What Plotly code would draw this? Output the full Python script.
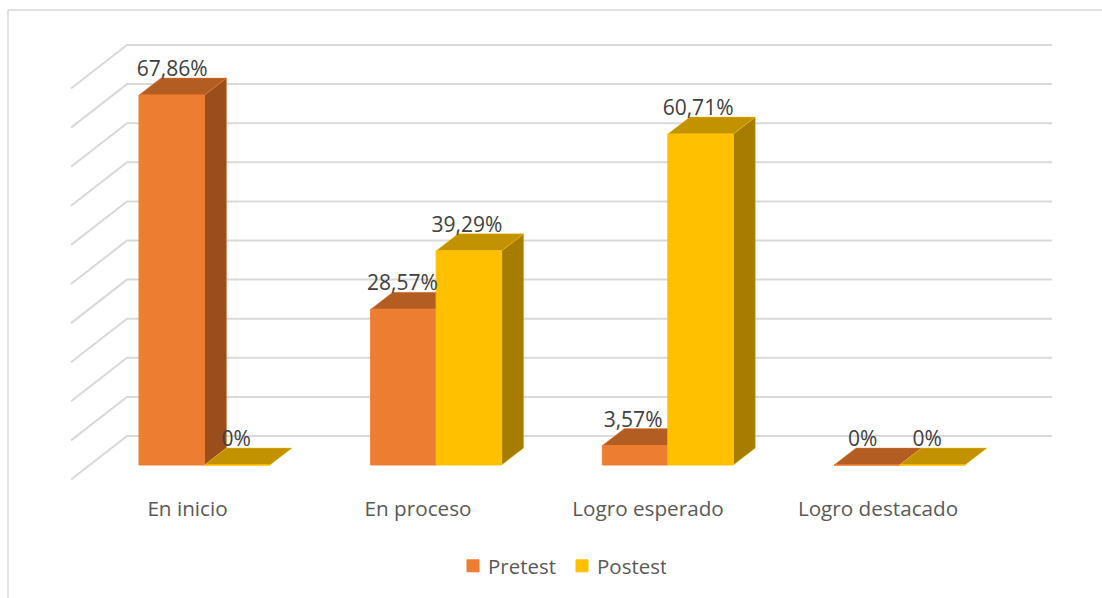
import plotly.graph_objects as go

categories = ["En inicio", "En proceso", "Logro esperado", "Logro destacado"]
pretest = [67.86, 28.57, 3.57, 0]
postest = [0, 39.29, 60.71, 0]
series_names = ["Pretest", "Postest"]

# Colours
ORANGE, ORANGE_TOP, ORANGE_SIDE = "#ED7D31", "#B35D23", "#9A4E1C"
YELLOW, YELLOW_TOP, YELLOW_SIDE = "#FFC000", "#C29200", "#A67D00"
GRID = "#D9D9D9"
FONT = "Open Sans"
WIDTH, HEIGHT = 1102, 598

# Pixel calibration of the scales
PLOT_BOTTOM = 490
X0_PX, X_STEP = 204.5, 231.67    # category 0 centre, px per category
Y0_PX, Y_STEP = 465.0, 5.452     # zero level, px per percent
x_u = lambda dx: dx / X_STEP
y_u = lambda dy: dy / Y_STEP
xrange_ = [-X0_PX / X_STEP, (WIDTH - X0_PX) / X_STEP]
yrange_ = [(Y0_PX - PLOT_BOTTOM) / Y_STEP, Y0_PX / Y_STEP]
px_x = lambda p: (p - X0_PX) / X_STEP
px_y = lambda p: (Y0_PX - p) / Y_STEP

DX, DY = x_u(22), y_u(17)        # depth of the 3D extrusion
BAR_W = 65.5 / X_STEP
LABEL_OFF = y_u(24)
TICK_PX = [187.5, 418, 648, 878]
LABEL_SHIFT_PX = [0.5, -1, -1, -2, -2, -2.5, -4, -5]

shapes = []
# Frame
shapes.append(dict(type="line", xref="paper", yref="paper", x0=8/WIDTH, x1=1, y0=(PLOT_BOTTOM-10)/PLOT_BOTTOM,
                   y1=(PLOT_BOTTOM-10)/PLOT_BOTTOM, line=dict(color=GRID, width=1.5), layer="below"))
shapes.append(dict(type="line", xref="paper", yref="paper", x0=8/WIDTH, x1=8/WIDTH, y0=(PLOT_BOTTOM-10)/PLOT_BOTTOM,
                   y1=(PLOT_BOTTOM-598)/PLOT_BOTTOM, line=dict(color=GRID, width=1.5), layer="below"))
# Back wall and floor gridlines
for k in range(11):
    yb = 45 + 39.1 * k
    path = f"M{px_x(71)},{px_y(yb + 43.5)} L{px_x(127)},{px_y(yb)} L{px_x(1052)},{px_y(yb)}"
    shapes.append(dict(type="path", xref="x", yref="y", path=path, layer="below",
                       line=dict(color=GRID, width=2)))

def faces(cx, v, top, side, edge):
    x0, x1 = cx - BAR_W / 2, cx + BAR_W / 2
    top_path = f"M{x0},{v} L{x1},{v} L{x1+DX},{v+DY} L{x0+DX},{v+DY} Z"
    side_path = f"M{x1},0 L{x1+DX},{DY} L{x1+DX},{v+DY} L{x1},{v} Z"
    for p, c in ((side_path, side), (top_path, top)):
        if p is side_path and v == 0:
            continue
        shapes.append(dict(type="path", xref="x", yref="y", path=p, fillcolor=c, layer="below",
                           line=dict(color=edge, width=0.4)))

xs = list(range(len(categories)))
for i, v in enumerate(pretest):
    faces(i - BAR_W / 2, v, ORANGE_TOP, ORANGE_SIDE, ORANGE)
for i, v in enumerate(postest):
    faces(i + BAR_W / 2, v, YELLOW_TOP, YELLOW_SIDE, YELLOW)

fig = go.Figure()
fig.add_bar(x=xs, y=pretest, name=series_names[0], marker=dict(color=ORANGE, line=dict(color=ORANGE, width=1)))
fig.add_bar(x=xs, y=postest, name=series_names[1], marker=dict(color=YELLOW, line=dict(color=YELLOW, width=1)))

def fmt(v):
    return "0%" if v == 0 else f"{v:.2f}".replace(".", ",") + "%"

lab_x, lab_y, lab_t = [], [], []
n = 0
for i in xs:
    for off, v in ((-BAR_W / 2, pretest[i]), (BAR_W / 2, postest[i])):
        lab_x.append(i + off + x_u(LABEL_SHIFT_PX[n]))
        lab_y.append(v + LABEL_OFF)
        lab_t.append(fmt(v))
        n += 1
fig.add_scatter(x=lab_x, y=lab_y, text=lab_t, mode="text", textposition="middle center",
                textfont=dict(family=FONT, size=21, color="#404040"), showlegend=False, hoverinfo="skip")

fig.update_layout(
    width=WIDTH, height=HEIGHT, autosize=False,
    margin=dict(l=0, r=0, t=0, b=HEIGHT - PLOT_BOTTOM, pad=0),
    paper_bgcolor="white", plot_bgcolor="white",
    barmode="group", bargap=1 - 2 * BAR_W, bargroupgap=0,
    shapes=shapes,
    font=dict(family=FONT, size=20.7, color="#595959"),
    legend=dict(orientation="h", x=(448 / WIDTH), xanchor="left", y=(PLOT_BOTTOM - 566) / PLOT_BOTTOM, yanchor="middle",
                traceorder="normal", entrywidth=64, entrywidthmode="pixels",
                font=dict(family=FONT, size=20.5, color="#595959"), bgcolor="rgba(0,0,0,0)"),
    xaxis=dict(range=xrange_, tickmode="array", tickvals=[px_x(p) for p in TICK_PX], ticktext=categories,
               showgrid=False, zeroline=False, showline=False, ticks="", ticklabelstandoff=4, fixedrange=True),
    yaxis=dict(range=yrange_, visible=False, fixedrange=True),
)
fig.write_html(
    "out.html",
    config={"displayModeBar": False},
    post_script=(
        "document.body.style.margin='0';document.body.style.overflow='hidden';"
        "document.querySelectorAll('.legendsymbols').forEach(function(e){e.setAttribute('transform','translate(5,0)');});"
    ),
)
